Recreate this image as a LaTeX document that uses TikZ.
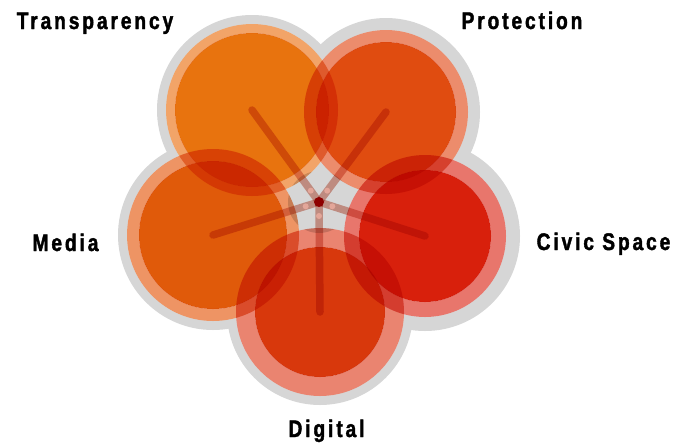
\documentclass[tikz,border=0pt]{standalone}
\usepackage{fontspec}
\newfontfamily\labfont{Liberation Sans}[FakeStretch=0.8,LetterSpace=12,BoldFeatures={FakeBold=1.6}]
\definecolor{grayrim}{HTML}{D6D6D6}
\definecolor{tIn}{HTML}{E8730E}\definecolor{tRing}{HTML}{F2A468}
\definecolor{pIn}{HTML}{E04C10}\definecolor{pRing}{HTML}{EC8C6C}
\definecolor{mIn}{HTML}{E05A0A}\definecolor{mRing}{HTML}{EE9464}
\definecolor{cIn}{HTML}{D8200C}\definecolor{cRing}{HTML}{E8766C}
\definecolor{dIn}{HTML}{D8380C}\definecolor{dRing}{HTML}{EA8470}
\definecolor{spokecol}{HTML}{E3A699}
\definecolor{hub}{HTML}{8E0000}
\tikzset{
  rim/.style={fill=grayrim},
  spoke/.style={draw=spokecol,line width=7.5pt,line cap=round},
  label/.style={font=\labfont\bfseries\fontsize{24}{26}\selectfont,text=black,anchor=base,inner sep=0pt},
}
\begin{document}
\begin{tikzpicture}[x=1pt,y=-1pt]
\useasboundingbox (0,0) rectangle (693,445);
\coordinate (c) at (319,202);
\coordinate (t) at (252,110);
\coordinate (p) at (386,112);
\coordinate (m) at (213,235);
\coordinate (cs) at (425,236);
\coordinate (d) at (320,312);
% gray rims
\fill[rim] (t) circle[radius=95pt];
\fill[rim] (p) circle[radius=94pt];
\fill[rim] (m) circle[radius=95pt];
\fill[rim] (cs) circle[radius=95pt];
\fill[rim] (d) circle[radius=93pt];
% knock out the rims under the petals
\fill[white] (t) circle[radius=86pt];
\fill[white] (p) circle[radius=82pt];
\fill[white] (m) circle[radius=86pt];
\fill[white] (cs) circle[radius=81pt];
\fill[white] (d) circle[radius=84pt];
\fill[rim] (c) circle[radius=31pt];
% white gaps near hub
\foreach \a in {90,162,234,306,18}
  \fill[white] (c) ++(\a:-14pt) circle[radius=3pt];
\begin{scope}[blend mode=multiply]
  \fill[tRing,even odd rule] (t) circle[radius=86pt] (t) circle[radius=77pt];
  \fill[pRing,even odd rule] (p) circle[radius=82pt] (p) circle[radius=70pt];
  \fill[mRing,even odd rule] (m) circle[radius=86pt] (m) circle[radius=74pt];
  \fill[cRing,even odd rule] (cs) circle[radius=81pt] (cs) circle[radius=66pt];
  \fill[dRing,even odd rule] (d) circle[radius=84pt] (d) circle[radius=65pt];
  \fill[tIn] (t) circle[radius=77pt];
  \fill[pIn] (p) circle[radius=70pt];
  \fill[mIn] (m) circle[radius=74pt];
  \fill[cIn] (cs) circle[radius=66pt];
  \fill[dIn] (d) circle[radius=65pt];
  \draw[spoke] (c) -- (t);
  \draw[spoke] (c) -- (p);
  \draw[spoke] (c) -- (m);
  \draw[spoke] (c) -- (cs);
  \draw[spoke] (c) -- (d);
\end{scope}
\fill[hub] (c) circle[radius=5pt];
\node[label] (lt) at (95,29) {Transparency};
\node[label] (lp) at (522,29) {Protection};
\node[label] (lm) at (65.5,251) {Media};
\node[label] (lc) at (603.5,250) {Civic Space};
\node[label] (ld) at (326.5,437) {Digital};
\end{tikzpicture}
\end{document}
